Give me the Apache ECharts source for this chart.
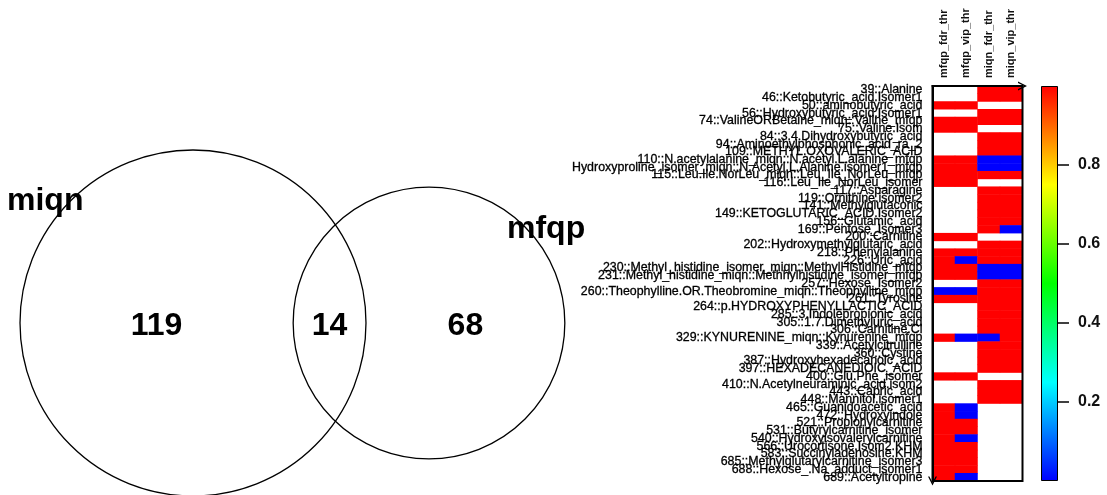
<!DOCTYPE html>
<html>
<head>
<meta charset="utf-8">
<script src="https://cdn.jsdelivr.net/npm/echarts@6/dist/echarts.min.js"></script>
<style>
  html, body { margin: 0; padding: 0; background: #fff; }
  #chart { width: 1107px; height: 495px; }
</style>
</head>
<body>
<div id="chart"></div>
<script>
  // Venn counts: miqn only, shared, mfqp only
  const vennSets = ['miqn', 'mfqp'];
  const vennCounts = [119, 14, 68];

  // heatmap columns
  const colLabels = ['mfqp_fdr_thr', 'mfqp_vip_thr', 'miqn_fdr_thr', 'miqn_vip_thr'];

  // heatmap rows (top to bottom)
  const rowLabels = [
    '39::Alanine',
    '46::Ketobutyric_acid.Isomer1',
    '50::aminobutyric_acid',
    '56::Hydroxybutyric_acid.Isomer1',
    '74::ValineORBetaine_miqn::Valine_mfqp',
    '75::Valine.Isom',
    '84::3.4.Dihydroxybutyric_acid',
    '94::Aminoethylphosphonic_acid_ra_2',
    '109::METHYL.OXOVALERIC_ACID',
    '110::N.acetylalanine_miqn::N.acetyl.L.alanine_mfqp',
    'Hydroxyproline_isomer_miqn::N.Acetyl.L.Alanine.isomer1_mfqp',
    '115::Leu.Ile.NorLeu_miqn::Leu_Ile_NorLeu_mfqp',
    '116::Leu_Ile_NorLeu_isomer',
    '117::Asparagine',
    '119::Ornithine.isomer2',
    '141::Methylglutaconic',
    '149::KETOGLUTARIC_ACID.Isomer2',
    '156::Glutamic_acid',
    '169::Pentose_Isomer3',
    '200::Carnitine',
    '202::Hydroxymethylglutaric_acid',
    '218::Phenylalanine',
    '226::Uric_acid',
    '230::Methyl_histidine_isomer_miqn::MethylHistidine_mfqp',
    '231::Methyl_histidine_miqn::Methhylhistidine_isomer_mfqp',
    '257::Hexose_Isomer2',
    '260::Theophylline.OR.Theobromine_miqn::Theophylline_mfqp',
    '261::Tyrosine',
    '264::p.HYDROXYPHENYLLACTIC_ACID',
    '285::3.Indolepropionic_acid',
    '305::1.7.Dimethyluric_acid',
    '306::Carnitine.Cl',
    '329::KYNURENINE_miqn::Kynurenine_mfqp',
    '339::Acetylcitrulline',
    '360::Cystine',
    '387::Hydroxyhexadecanoic_acid',
    '397::HEXADECANEDIOIC_ACID',
    '400::Glu.Phe_isomer',
    '410::N.Acetylneuraminic_acid.isom2',
    '443::Capric_acid',
    '448::Mannitol.isomer1',
    '465::Guanidoacetic_acid',
    '472::Hydroxyindole',
    '521::Propionylcarnitine',
    '531::Butyrylcarnitine_isomer',
    '540::Hydroxyisovalerylcarnitine',
    '566::Urocortisone.Isom2.KHM',
    '583::Succinyladenosine.KHM',
    '685::Methylglutarylcarnitine_isomer3',
    '688::Hexose_.Na_adduct_isomer1',
    '689::Acetyltropine'
  ];

  // cell values per column, null = not present (white)
  const n = null;
  const mfqpFdr = [
    n, n, 1, n, 1, 1, n, n, n, 1,
    1, 1, 1, n, n, n, n, n, n, 1,
    n, 1, 1, 1, 1, n, 0, 1, n, n,
    n, n, 1, n, n, n, n, 1, n, n,
    n, 1, 1, 1, 1, 1, 1, 1, 1, 1,
    1
  ];
  const mfqpVip = [
    n, n, 1, n, 1, 1, n, n, n, 1,
    1, 1, 1, n, n, n, n, n, n, 1,
    n, 1, 0, 1, 1, n, 0, 1, n, n,
    n, n, 0, n, n, n, n, 1, n, n,
    n, 0, 0, 1, 1, 0, 1, 1, 1, 1,
    0
  ];
  const miqnFdr = [
    1, 1, n, 1, 1, n, 1, 1, 1, 0,
    0, 1, n, 1, 1, 1, 1, 1, 1, n,
    1, 1, 1, 0, 0, 1, 1, 1, 1, 1,
    1, 1, 0, 1, 1, 1, 1, n, 1, 1,
    1, n, n, n, n, n, n, n, n, n,
    n
  ];
  const miqnVip = [
    1, 1, n, 1, 1, n, 1, 1, 1, 0,
    0, 1, n, 1, 1, 1, 1, 1, 0, n,
    1, 1, 1, 0, 0, 1, 1, 1, 1, 1,
    1, 1, 1, 1, 1, 1, 1, n, 1, 1,
    1, n, n, n, n, n, n, n, n, n,
    n
  ];

  // colour bar ticks
  const scaleTicks = [0.2, 0.4, 0.6, 0.8];

  const FONT = '"Liberation Sans", Arial, sans-serif';
  const rainbow = ['#0000ff', '#00ffff', '#00ff00', '#ffff00', '#ff0000'];

  const heatData = [];
  [mfqpFdr, mfqpVip, miqnFdr, miqnVip].forEach((col, ci) => {
    col.forEach((v, ri) => {
      if (v !== null) heatData.push([ci, ri, v]);
    });
  });

  // Venn layout (pixel space of the full-canvas grid)
  const RADIUS_SCALE = 15.0;
  const VENN_Y = 323;
  const vennCx = [193, 429];
  const setSizes = [vennCounts[0] + vennCounts[1], vennCounts[1] + vennCounts[2]];
  const radii = setSizes.map((s) => RADIUS_SCALE * Math.sqrt(s));
  const circles = vennCx.map((cx, i) => [cx, VENN_Y, radii[i]]);

  // region labels sit between circle edges
  const leftL = vennCx[0] - radii[0], leftR = vennCx[0] + radii[0];
  const rightL = vennCx[1] - radii[1], rightR = vennCx[1] + radii[1];
  const regionX = [(leftL + rightL) / 2, (rightL + leftR) / 2, (leftR + rightR) / 2];

  const vennTexts = vennCounts.map(String).concat(vennSets);
  const vennTextPos = [
    [regionX[0], VENN_Y + 3, 'center'],
    [regionX[1], VENN_Y + 3, 'center'],
    [regionX[2], VENN_Y + 3, 'center'],
    [7, 201, 'left'],
    [507, 229, 'left']
  ];

  const chevron = 'path://M0,10 L5,0 L10,10 L8.4,10 L5,3.2 L1.6,10 Z';

  const chart = echarts.init(document.getElementById('chart'));

  const option = {
    animation: false,
    backgroundColor: '#ffffff',
    grid: [
      {
        left: 932.5, top: 86, width: 90, height: 395,
        show: true, backgroundColor: 'transparent',
        borderColor: '#000', borderWidth: 2, z: 10
      },
      { left: 1041, top: 86, width: 17, height: 395 },
      { left: 0, top: 0, right: 0, bottom: 0 }
    ],
    xAxis: [
      {
        type: 'category', gridIndex: 0, data: colLabels, position: 'top', z: 10,
        axisLine: {
          show: true, symbol: ['none', chevron], symbolSize: [9, 9],
          lineStyle: { color: '#000', width: 2 }
        },
        axisTick: { show: false },
        splitLine: { show: false },
        axisLabel: {
          interval: 0, rotate: -90, margin: 8,
          fontSize: 11, fontWeight: 'bold', color: '#111', fontFamily: FONT
        }
      },
      { type: 'category', gridIndex: 1, data: ['scale'], show: false },
      { type: 'value', gridIndex: 2, min: 0, max: 1107, show: false }
    ],
    yAxis: [
      {
        type: 'category', gridIndex: 0, data: rowLabels, inverse: true, z: 10,
        axisLine: {
          show: true, symbol: [chevron, 'none'], symbolSize: [9, 9],
          lineStyle: { color: '#000', width: 2 }
        },
        axisTick: { show: false },
        splitLine: { show: false },
        axisLabel: {
          interval: 0, margin: 10,
          fontSize: 12.4, color: '#000', fontFamily: FONT,
          textBorderColor: '#000', textBorderWidth: 0.3
        }
      },
      {
        type: 'value', gridIndex: 1, min: 0, max: 1, position: 'right',
        axisLine: { show: false },
        splitLine: { show: false },
        axisTick: { show: false },
        axisLabel: {
          customValues: scaleTicks, margin: 20,
          fontSize: 16, fontWeight: 'bold', color: '#111', fontFamily: FONT,
          formatter: (v) => v.toFixed(1)
        }
      },
      { type: 'value', gridIndex: 2, min: 0, max: 495, inverse: true, show: false }
    ],
    visualMap: {
      type: 'continuous', show: false, seriesIndex: 0,
      min: 0, max: 1,
      inRange: { color: rainbow }
    },
    series: [
      {
        type: 'heatmap', xAxisIndex: 0, yAxisIndex: 0,
        data: heatData,
        emphasis: { disabled: true }
      },
      {
        // colour key
        type: 'bar', xAxisIndex: 1, yAxisIndex: 1,
        data: [1], barWidth: '100%', silent: true,
        itemStyle: {
          color: new echarts.graphic.LinearGradient(0, 1, 0, 0, rainbow.map((c, i) => ({
            offset: i / (rainbow.length - 1), color: c
          }))),
          borderColor: '#000', borderWidth: 1
        }
      },
      {
        // colour key tick marks
        type: 'custom', xAxisIndex: 1, yAxisIndex: 1, silent: true,
        data: scaleTicks.map((v) => [0, v]),
        clip: false,
        renderItem: (params, api) => {
          const c = api.coord([api.value(0), api.value(1)]);
          const half = api.size([1, 0])[0] / 2;
          return {
            type: 'line',
            shape: { x1: c[0] + half, y1: c[1], x2: c[0] + half + 11, y2: c[1] },
            style: { stroke: '#000', lineWidth: 1.5 }
          };
        }
      },
      {
        // Venn circles
        type: 'custom', xAxisIndex: 2, yAxisIndex: 2, silent: true,
        data: circles,
        clip: false,
        renderItem: (params, api) => {
          const c = api.coord([api.value(0), api.value(1)]);
          const s = api.size([api.value(2), api.value(2)]);
          return {
            type: 'circle',
            shape: { cx: c[0], cy: c[1], r: s[0] },
            style: { fill: 'none', stroke: '#000', lineWidth: 1.3 }
          };
        }
      },
      {
        // Venn counts and set names
        type: 'custom', xAxisIndex: 2, yAxisIndex: 2, silent: true,
        data: vennTextPos.map((p) => [p[0], p[1]]),
        clip: false,
        renderItem: (params, api) => {
          const c = api.coord([api.value(0), api.value(1)]);
          return {
            type: 'text',
            x: c[0], y: c[1],
            style: {
              text: vennTexts[params.dataIndex],
              fill: '#000',
              font: 'bold 32px ' + FONT,
              align: vennTextPos[params.dataIndex][2],
              verticalAlign: 'middle'
            }
          };
        }
      }
    ]
  };

  chart.setOption(option);
</script>
</body>
</html>
